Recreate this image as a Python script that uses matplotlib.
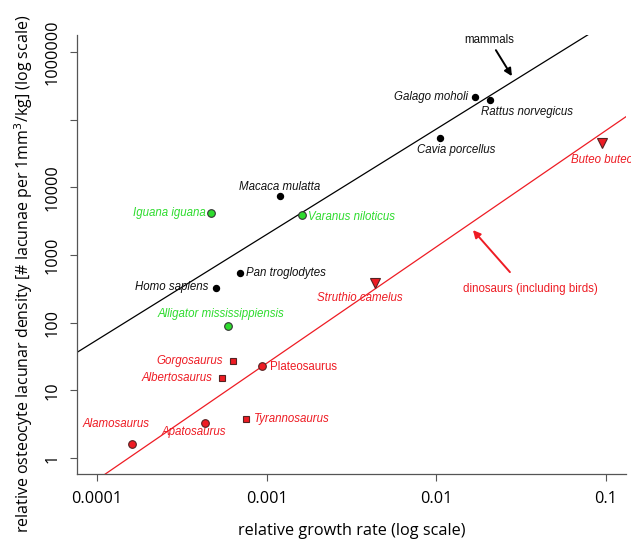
import matplotlib
matplotlib.use('Agg')
import matplotlib.pyplot as plt
import numpy as np

# species data: relative growth rate, lacunar density
mammal_names = ["Galago moholi", "Rattus norvegicus", "Cavia porcellus",
                "Macaca mulatta", "Pan troglodytes", "Homo sapiens"]
mammal_growth = [0.0169, 0.0206, 0.01054, 0.0012, 0.0007, 0.0005]
mammal_density = [214000, 198000, 52800, 7400, 546, 328]

reptile_names = ["Iguana iguana", "Varanus niloticus", "Alligator mississippiensis"]
reptile_growth = [0.000472, 0.001614, 0.000589]
reptile_density = [4160, 3890, 90]

dino_circle_names = ["Plateosaurus", "Apatosaurus", "Alamosaurus"]
dino_circle_growth = [0.000942, 0.000432, 0.000161]
dino_circle_density = [22.9, 3.29, 1.63]

dino_square_names = ["Gorgosaurus", "Albertosaurus", "Tyrannosaurus"]
dino_square_growth = [0.000635, 0.000543, 0.000755]
dino_square_density = [27.4, 15.2, 3.8]

bird_names = ["Struthio camelus", "Buteo buteo"]
bird_growth = [0.00438, 0.0942]
bird_density = [389, 44500]

# regression lines in log10 space: log(y) = a + b*log(x)
mammal_fit = (7.977, 1.558)
dino_fit = (6.56, 1.72)

# label offsets in pixels (dx, dy, ha)
label_pos = {
    "Galago moholi": (-7, 0, "right"),
    "Rattus norvegicus": (-9, -12, "left"),
    "Cavia porcellus": (16, -12, "center"),
    "Macaca mulatta": (0, 9, "center"),
    "Pan troglodytes": (6, 0, "left"),
    "Homo sapiens": (-7, 1, "right"),
    "Iguana iguana": (-6, 0, "right"),
    "Varanus niloticus": (6, -2, "left"),
    "Alligator mississippiensis": (-7, 12, "center"),
    "Plateosaurus": (8, -1, "left"),
    "Apatosaurus": (-11, -9, "center"),
    "Alamosaurus": (-16, 20, "center"),
    "Gorgosaurus": (-10, 0, "right"),
    "Albertosaurus": (-9, 0, "right"),
    "Tyrannosaurus": (8, 0, "left"),
    "Struthio camelus": (-16, -15, "center"),
    "Buteo buteo": (-31, -17, "left"),
}
upright = {"Plateosaurus"}

green = "#2edc2e"
red = "#ee1c24"
label_font = "Liberation Sans"
axis_font = "Open Sans"

fig = plt.figure(figsize=(6.31, 5.43), dpi=100)
ax = fig.add_axes([0.122, 0.127, 0.870, 0.8085])
ax.set_xscale('log')
ax.set_yscale('log')
xmin, xmax = 10**-4.118, 10**-0.882
ax.set_xlim(xmin, xmax)
ax.set_ylim(10**-0.236, 10**6.25)

xs = np.logspace(np.log10(xmin), np.log10(xmax), 50)
for (a, b), col in [(mammal_fit, "black"), (dino_fit, red)]:
    ax.plot(xs, 10**(a + b*np.log10(xs)), color=col, lw=0.9, zorder=1)


def label(names, xv, yv, col):
    for n, x, y in zip(names, xv, yv):
        dx, dy, ha = label_pos[n]
        ax.annotate(n, (x, y), xytext=(dx, dy), textcoords='offset pixels',
                    ha=ha, va='center', fontsize=8.3, color=col,
                    family=label_font,
                    style='normal' if n in upright else 'italic',
                    annotation_clip=False)


ax.plot(mammal_growth, mammal_density, 'o', color='black', ms=4.3, zorder=3)
ax.plot(reptile_growth, reptile_density, 'o', mfc=green, mec='#333333',
        mew=0.8, ms=5.5, zorder=3)
ax.plot(dino_circle_growth, dino_circle_density, 'o', mfc=red, mec='#552222',
        mew=0.8, ms=5.5, zorder=3)
ax.plot(dino_square_growth, dino_square_density, 's', mfc=red, mec='#552222',
        mew=0.8, ms=5, zorder=3)
ax.plot(bird_growth, bird_density, 'v', mfc=red, mec='#552222',
        mew=0.8, ms=6.5, zorder=3)

label(mammal_names, mammal_growth, mammal_density, '#111111')
label(reptile_names, reptile_growth, reptile_density, green)
label(dino_circle_names, dino_circle_growth, dino_circle_density, red)
label(dino_square_names, dino_square_growth, dino_square_density, red)
label(bird_names, bird_growth, bird_density, red)

# group arrows
ax.annotate("", xy=(0.0279, 439000), xytext=(-16, 26), textcoords='offset pixels',
            arrowprops=dict(arrowstyle='-|>', color='black', lw=1.4,
                            mutation_scale=11, shrinkA=0, shrinkB=0))
ax.annotate("mammals", xy=(0.0279, 439000), xytext=(-23, 36),
            textcoords='offset pixels', ha='center', va='center',
            fontsize=8.3, family=label_font, color='#111111')
ax.annotate("", xy=(0.01644, 2333), xytext=(37, -42), textcoords='offset pixels',
            arrowprops=dict(arrowstyle='-|>', color=red, lw=1.4,
                            mutation_scale=11, shrinkA=0, shrinkB=0))
ax.annotate("dinosaurs (including birds)", xy=(0.01644, 2333), xytext=(57, -59),
            textcoords='offset pixels', ha='center', va='center',
            fontsize=8.3, family=label_font, color=red)

ax.set_xticks([0.0001, 0.001, 0.01, 0.1])
ax.set_xticklabels(["0.0001", "0.001", "0.01", "0.1"])
ax.set_yticks([1, 10, 100, 1000, 10000, 100000, 1000000])
ax.set_yticklabels(["1", "10", "100", "1000", "10000", "", "1000000"],
                   rotation=90, va='center')
ax.minorticks_off()
ax.tick_params(direction='out', length=5, width=0.8, color='#555555',
               labelsize=11.7, pad=7)
for lab in ax.get_xticklabels() + ax.get_yticklabels():
    lab.set_family(axis_font)
for s in ['top', 'right']:
    ax.spines[s].set_visible(False)
for s in ['left', 'bottom']:
    ax.spines[s].set_color('#555555')
    ax.spines[s].set_linewidth(0.9)

ax.set_xlabel("relative growth rate (log scale)", family=axis_font,
              fontsize=11.7, labelpad=12)
ax.set_ylabel("relative osteocyte lacunar density [# lacunae per 1mm$^3$/kg] (log scale)",
              family=axis_font, fontsize=11.5, labelpad=7)
ax.yaxis.label.set_y(0.455)

fig.savefig("out.png", dpi=100)
